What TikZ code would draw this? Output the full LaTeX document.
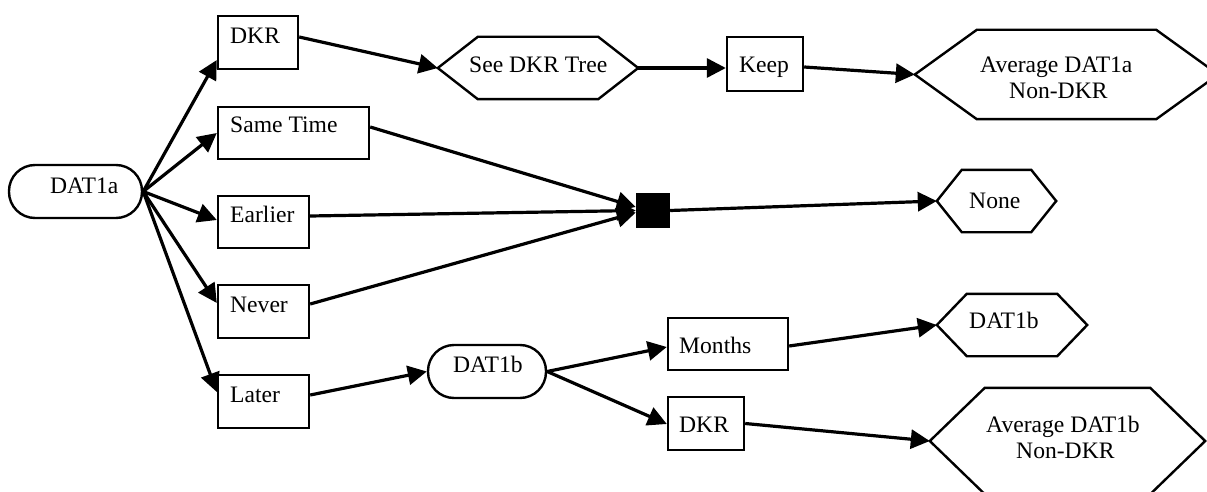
\documentclass[tikz,border=0pt]{standalone}
\usepackage{fontspec}
\setmainfont{Liberation Serif}
\usetikzlibrary{arrows.meta,calc}
\newcommand\hexdraw[2]{%
  \draw[hexline] (#1.west) -- ($(#1.north west)+(#2,0)$) -- ($(#1.north east)+(-#2,0)$)
    -- (#1.east) -- ($(#1.south east)+(-#2,0)$) -- ($(#1.south west)+(#2,0)$) -- cycle;}
\begin{document}
\begin{tikzpicture}[x=1pt,y=-1pt,
  boxn/.style={draw, line width=2.4pt, inner sep=0pt},
  pill/.style={boxn, rounded corners=26pt},
  hexn/.style={inner sep=0pt},
  hexline/.style={line width=2.4pt, line join=miter},
  txt/.style={anchor=base west, inner sep=0pt, font=\fontsize{23.6}{28}\selectfont},
  edge/.style={line width=3.2pt, -{Triangle[length=19pt,width=19pt]}}]
\useasboundingbox (0,0) rectangle (1207,492);

% shapes
\node[pill, minimum width=133pt, minimum height=53pt] (a) at (75.5,191.5) {};
\node[boxn, minimum width=80pt, minimum height=53pt] (dkr) at (258,42.5) {};
\node[boxn, minimum width=151pt, minimum height=52pt] (same) at (293.5,133) {};
\node[boxn, minimum width=91pt, minimum height=52pt] (earlier) at (263.5,222) {};
\node[boxn, minimum width=91pt, minimum height=53pt] (never) at (263.5,311.5) {};
\node[boxn, minimum width=91pt, minimum height=53pt] (later) at (263.5,401.5) {};
\node[hexn, minimum width=200pt, minimum height=62pt] (see) at (538,68) {};
\node[boxn, minimum width=76pt, minimum height=54pt] (keep) at (765,64) {};
\node[hexn, minimum width=303pt, minimum height=89pt] (avga) at (1066.5,74.5) {};
\node[boxn, fill=black, minimum width=32pt, minimum height=33pt] (sq) at (653,210.5) {};
\node[hexn, minimum width=119pt, minimum height=62pt] (none) at (996.5,201) {};
\node[pill, minimum width=118pt, minimum height=53pt] (b) at (487,371.5) {};
\node[boxn, minimum width=120pt, minimum height=52pt] (months) at (728,344) {};
\node[boxn, minimum width=76pt, minimum height=53pt] (dkrb) at (706,423.5) {};
\node[hexn, minimum width=150pt, minimum height=62pt] (datb) at (1012,325) {};
\node[hexn, minimum width=275pt, minimum height=106pt] (avgb) at (1067.5,441) {};

\hexdraw{see}{40}
\hexdraw{avga}{62}
\hexdraw{none}{25}
\hexdraw{datb}{30}
\hexdraw{avgb}{55}

% texts
\node[txt] (ta) at (50,193) {DAT1a};
\node[txt] (tdkr) at (230,44) {DKR};
\node[txt] (tsame) at (230,133) {Same Time};
\node[txt] (tearlier) at (230,222) {Earlier};
\node[txt] (tnever) at (230,312) {Never};
\node[txt] (tlater) at (230,402) {Later};
\node[txt] (tsee) at (469,73) {See DKR Tree};
\node[txt] (tkeep) at (739,73) {Keep};
\node[txt] (tavga1) at (980,73) {Average DAT1a};
\node[txt] (tavga2) at (1009,99) {Non-DKR};
\node[txt] (tnone) at (969,208) {None};
\node[txt] (tb) at (453,372) {DAT1b};
\node[txt] (tmonths) at (679,353) {Months};
\node[txt] (tdkrb) at (679,432) {DKR};
\node[txt] (tdatb) at (969,328) {DAT1b};
\node[txt] (tavgb1) at (986,432) {Average DAT1b};
\node[txt] (tavgb2) at (1016,458) {Non-DKR};

% connectors
\draw[edge] (a.east) -- ($(dkr.west)+(0,17.5)$);
\draw[edge] (a.east) -- (same.west);
\draw[edge] (a.east) -- ($(earlier.west)+(0,-2)$);
\draw[edge] (a.east) -- ($(never.west)+(0,-8.5)$);
\draw[edge] (a.east) -- ($(later.west)+(0,-9.5)$);
\draw[edge] ($(dkr.east)+(0,-5.5)$) -- (see.west);
\draw[edge] (see.east) -- ($(keep.west)+(0,4)$);
\draw[edge] ($(keep.east)+(0,3)$) -- (avga.west);
\draw[edge] ($(same.east)+(0,-6)$) -- ($(sq.west)+(0,-3.5)$);
\draw[edge] ($(earlier.east)+(0,-6)$) -- (sq.west);
\draw[edge] ($(never.east)+(0,-7.5)$) -- ($(sq.west)+(0,2)$);
\draw[edge] (sq.east) -- (none.west);
\draw[edge] ($(later.east)+(0,-6.5)$) -- (b.west);
\draw[edge] (b.east) -- ($(months.west)+(0,3)$);
\draw[edge] (b.east) -- ($(dkrb.west)+(0,0.5)$);
\draw[edge] ($(months.east)+(0,2)$) -- (datb.west);
\draw[edge] (dkrb.east) -- (avgb.west);
\end{tikzpicture}
\end{document}
